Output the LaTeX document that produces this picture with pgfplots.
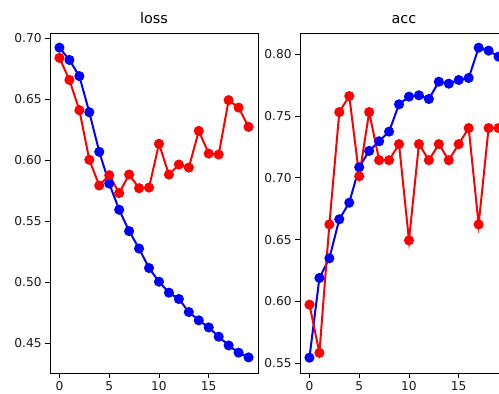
\documentclass[border=0pt]{standalone}
\usepackage{pgfplots}
\pgfplotsset{compat=1.18}
\usepackage{fontspec}
\setmainfont{DejaVu Sans}
\begin{document}
\begin{tikzpicture}
\useasboundingbox (0,0) rectangle (499pt,394pt);
\clip (0,0) rectangle (499pt,394pt);
\pgfplotsset{
  mpl/.style={
    scale only axis, width=208pt, height=340pt, anchor=south west,
    xmin=-0.95, xmax=19.95,
    xtick={0,5,10,15},
    tick pos=left, tick align=outside,
    major tick length=4.9pt,
    axis line style={line width=0.9pt},
    every tick/.style={black, line width=0.9pt},
    tick label style={font=\fontsize{12.2}{13}\selectfont, text=black!90},
    /pgf/number format/assume math mode=true,
    yticklabel style={/pgf/number format/fixed, /pgf/number format/fixed zerofill, /pgf/number format/precision=2},
    scaled y ticks=false,
    title style={font=\fontsize{14.4}{15}\selectfont, yshift=0pt},
    every axis plot/.append style={line width=2pt, mark=*, mark size=4pt},
  }
}
\begin{axis}[mpl, at={(50pt,21pt)}, title={loss},
  ymin=0.4254, ymax=0.7043,
  ytick={0.45,0.50,0.55,0.60,0.65,0.70}]
\addplot[blue, mark options={fill=blue}] coordinates {
(0,0.6923) (1,0.6822) (2,0.6689) (3,0.6393) (4,0.6068) (5,0.5808) (6,0.5593) (7,0.5418) (8,0.5275) (9,0.5115)
(10,0.5003) (11,0.4913) (12,0.4861) (13,0.4754) (14,0.4686) (15,0.4628) (16,0.4552) (17,0.4480) (18,0.4421) (19,0.4382)};
\addplot[red, mark options={fill=red}] coordinates {
(0,0.6839) (1,0.6658) (2,0.6410) (3,0.6003) (4,0.5792) (5,0.5877) (6,0.5730) (7,0.5882) (8,0.5770) (9,0.5775)
(10,0.6134) (11,0.5882) (12,0.5964) (13,0.5939) (14,0.6240) (15,0.6054) (16,0.6046) (17,0.6492) (18,0.6431) (19,0.6273)};
\end{axis}
\begin{axis}[mpl, at={(300pt,21pt)}, title={acc},
  ymin=0.5421, ymax=0.8172,
  ytick={0.55,0.60,0.65,0.70,0.75,0.80}]
\addplot[blue, mark options={fill=blue}] coordinates {
(0,0.5545) (1,0.6190) (2,0.6349) (3,0.6665) (4,0.6799) (5,0.7086) (6,0.7218) (7,0.7296) (8,0.7374) (9,0.7595)
(10,0.7657) (11,0.7668) (12,0.7638) (13,0.7778) (14,0.7762) (15,0.7792) (16,0.7808) (17,0.8053) (18,0.8029) (19,0.7981)};
\addplot[red, mark options={fill=red}] coordinates {
(0,0.5974) (1,0.5584) (2,0.6623) (3,0.7532) (4,0.7662) (5,0.7013) (6,0.7532) (7,0.7143) (8,0.7143) (9,0.7273)
(10,0.6494) (11,0.7273) (12,0.7143) (13,0.7273) (14,0.7143) (15,0.7273) (16,0.7403) (17,0.6623) (18,0.7403) (19,0.7403)};
\end{axis}
\end{tikzpicture}
\end{document}
